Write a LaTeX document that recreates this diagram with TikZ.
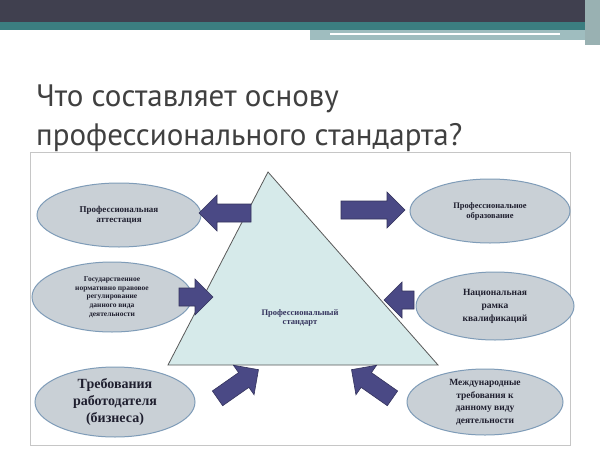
\documentclass[tikz,border=0pt]{standalone}
\usepackage{fontspec}
\setmainfont{Liberation Serif}
\newfontfamily\titlefont{PT Sans}
\usetikzlibrary{shapes.geometric}
\definecolor{barDark}{HTML}{40404F}
\definecolor{barTeal}{HTML}{3B7E80}
\definecolor{barLight}{HTML}{9FBDBF}
\definecolor{ellFill}{HTML}{C9D0D6}
\definecolor{ellLine}{HTML}{7F9CB8}
\definecolor{triFill}{HTML}{D6EAEA}
\definecolor{arrFill}{HTML}{4A4985}
\definecolor{txtDark}{HTML}{1F1F2F}
\tikzset{
  ell/.style={ellipse, draw=ellLine, line width=1pt, fill=ellFill, align=center, inner sep=0pt, font=\bfseries\fontsize{9}{10}\selectfont, text=txtDark},
  blk/.style={fill=arrFill, draw=arrFill!70!black, line width=0.6pt}
}
% \blkarrow{name}{x}{y}{angle}{length}
\newcommand{\blkarrow}[5]{%
  \coordinate (#1) at (#2,#3);
  \begin{scope}[shift={(#1)}, rotate=#4]
    \draw[blk] (-#5/2,-9) -- (#5/2-18,-9) -- (#5/2-18,-18) -- (#5/2,0) -- (#5/2-18,18) -- (#5/2-18,9) -- (-#5/2,9) -- cycle;
  \end{scope}}
\begin{document}
\begin{tikzpicture}[x=1pt,y=-1pt]
\useasboundingbox (0,0) rectangle (600,450);
\fill[white] (0,0) rectangle (600,450);
% top bar
\fill[barDark] (0,0) rectangle (600,22);
\fill[barTeal] (0,22) rectangle (600,30);
\fill[barLight] (310,30) rectangle (585,40);
\fill[white] (330,33) rectangle (560,35);
\fill[barLight!80!gray] (585,0) rectangle (600,45);
% title
\node[anchor=base west, font=\titlefont\fontsize{31}{34}\selectfont, text=black!75, inner sep=0pt] (t1) at (36,106) {Что составляет основу};
\node[anchor=base west, font=\titlefont\fontsize{31}{34}\selectfont, text=black!75, inner sep=0pt] (t2) at (36,145) {профессионального стандарта?};
% frame
\draw[gray!45, line width=0.8pt] (30,152) rectangle (570,445);
% triangle
\fill[triFill, draw=gray!70!black, line width=0.8pt] (268,172) -- (438,365) -- (168,365) -- cycle;
\node[font=\bfseries\fontsize{8.5}{9.5}\selectfont, text=arrFill!70!black, align=center] (ps) at (300,318) {Профессиональный\\стандарт};
% ellipses
\node[ell, minimum width=164pt, minimum height=64pt] (e1) at (119,215) {Профессиональная\\аттестация};
\node[ell, minimum width=160pt, minimum height=70pt, font=\bfseries\fontsize{7.5}{8.6}\selectfont] (e2) at (112,297) {Государственное\\нормативно правовое\\регулирование\\данного вида\\деятельности};
\node[ell, minimum width=160pt, minimum height=70pt, font=\bfseries\fontsize{14}{17}\selectfont] (e3) at (115,402) {Требования\\работодателя\\(бизнеса)};
\node[ell, minimum width=160pt, minimum height=64pt, font=\bfseries\fontsize{8.5}{10}\selectfont] (e4) at (490,211) {Профессиональное\\образование};
\node[ell, minimum width=158pt, minimum height=68pt, font=\bfseries\fontsize{9.5}{13}\selectfont] (e5) at (495,306) {Национальная\\рамка\\квалификаций};
\node[ell, minimum width=156pt, minimum height=66pt, font=\bfseries\fontsize{9.5}{12.5}\selectfont] (e6) at (485,402) {Международные\\требования к\\данному виду\\деятельности};
% block arrows
\blkarrow{a1}{225}{213}{180}{52}
\blkarrow{a2}{196}{297}{0}{34}
\blkarrow{a3}{373}{210}{0}{64}
\blkarrow{a4}{399}{300}{180}{30}
\blkarrow{a5}{238}{384}{35}{50}
\blkarrow{a6}{372}{384}{145}{50}
\end{tikzpicture}
\end{document}
